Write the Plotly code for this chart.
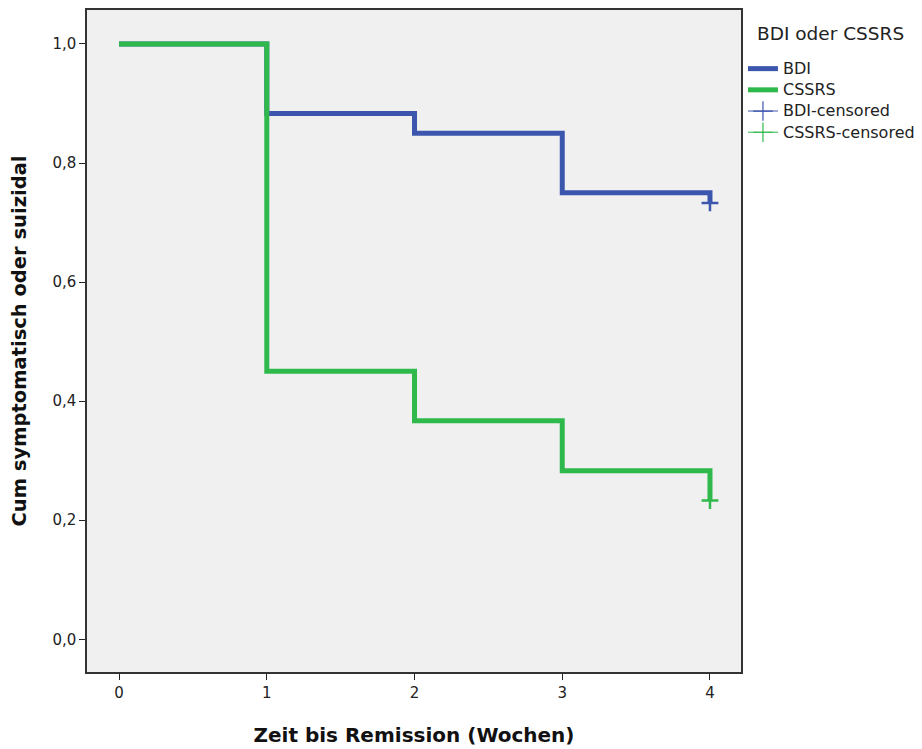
import plotly.graph_objects as go

weeks = [0, 1, 2, 3, 4]
bdi_surv = [1.0, 0.883, 0.850, 0.750, 0.733]
cssrs_surv = [1.0, 0.450, 0.367, 0.283, 0.233]
bdi_cens_x = [4]
bdi_cens_y = [0.733]
cssrs_cens_x = [4]
cssrs_cens_y = [0.233]
series_names = ["BDI", "CSSRS", "BDI-censored", "CSSRS-censored"]

blue = "#3c56ae"
green = "#2fb84b"
FONT = "DejaVu Sans, Verdana, sans-serif"


def lab(s):
    return f"<span style='font-size:16px'>{s}</span>"


fig = go.Figure()
fig.add_trace(go.Scatter(x=weeks, y=bdi_surv, mode="lines", line=dict(shape="hv", color=blue, width=5),
                         name=lab(series_names[0])))
fig.add_trace(go.Scatter(x=weeks, y=cssrs_surv, mode="lines", line=dict(shape="hv", color=green, width=5),
                         name=lab(series_names[1])))
fig.add_trace(go.Scatter(x=bdi_cens_x, y=bdi_cens_y, mode="markers", showlegend=False,
                         marker=dict(symbol="cross-thin", size=12, line=dict(color=blue, width=2.5)),
                         name=series_names[2]))
fig.add_trace(go.Scatter(x=cssrs_cens_x, y=cssrs_cens_y, mode="markers", showlegend=False,
                         marker=dict(symbol="cross-thin", size=12, line=dict(color=green, width=2.5)),
                         name=series_names[3]))
# legend-only entries with the thin censor symbol
fig.add_trace(go.Scatter(x=[None], y=[None], mode="lines+markers",
                         line=dict(color=blue, width=1),
                         marker=dict(symbol="cross-thin", size=14, line=dict(color=blue, width=1.2)),
                         name=lab(series_names[2])))
fig.add_trace(go.Scatter(x=[None], y=[None], mode="lines+markers",
                         line=dict(color=green, width=1),
                         marker=dict(symbol="cross-thin", size=14, line=dict(color=green, width=1.2)),
                         name=lab(series_names[3])))

fig.update_layout(
    width=914, height=741,
    margin=dict(l=79, r=181, t=2, b=77, autoexpand=False),
    paper_bgcolor="white", plot_bgcolor="#f0f0f0",
    separators=",.",
    font=dict(family=FONT, color="#222", size=15),
    legend=dict(x=1.003, y=0.935, xanchor="left", yanchor="top", font=dict(size=14, family=FONT),
                tracegroupgap=0, itemwidth=30, bgcolor="rgba(0,0,0,0)"),
    showlegend=True,
    annotations=[dict(text="BDI oder CSSRS", xref="paper", yref="paper", x=1.0214, y=0.964,
                      xanchor="left", yanchor="middle", showarrow=False,
                      font=dict(size=18.5, family=FONT, color="#222"))],
)
fig.update_xaxes(range=[-0.217, 4.21], tickvals=[0, 1, 2, 3, 4], ticks="outside", ticklen=6,
                 tickcolor="#222", showline=True, linecolor="#333", linewidth=1.5, mirror=True,
                 showgrid=False, zeroline=False, automargin=False,
                 title=dict(text="<b>Zeit bis Remission (Wochen)</b>", font=dict(size=20, color="#111", family=FONT),
                            standoff=27))
fig.update_yaxes(range=[-0.055, 1.057], tickvals=[0, 0.2, 0.4, 0.6, 0.8, 1.0], tickformat=".1f",
                 ticks="outside", ticklen=6, tickcolor="#222", showline=True, linecolor="#333",
                 linewidth=1.5, mirror=True, showgrid=False, zeroline=False, automargin=False,
                 title=dict(text="<b>Cum symptomatisch oder suizidal</b>", font=dict(size=19.5, color="#111", family=FONT),
                            standoff=24))

fig.write_html("out.html")
